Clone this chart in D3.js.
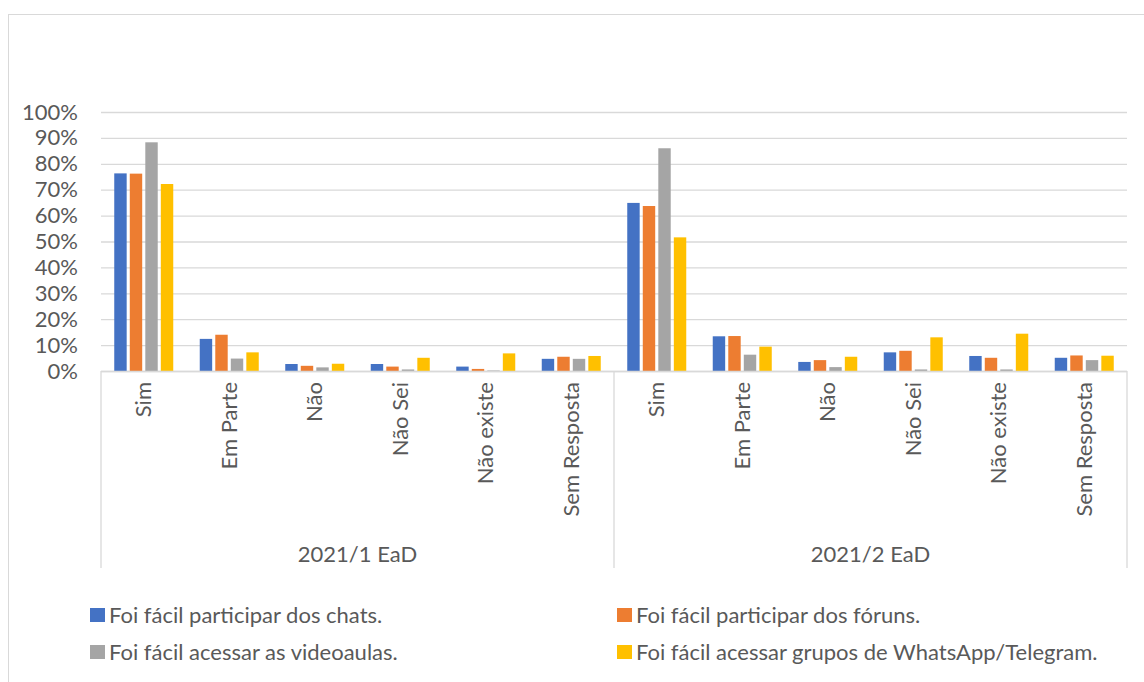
<!DOCTYPE html>
<meta charset="utf-8">
<style>
  body { margin: 0; background: #fff; }
  svg text { font-family: Lato, "Open Sans", sans-serif; fill: #595959; }
</style>
<body>
<div id="chart"></div>
<script src="https://d3js.org/d3.v7.min.js"></script>
<script>
// data
var groups = ["2021/1 EaD", "2021/2 EaD"];
var categories = ["Sim", "Em Parte", "Não", "Não Sei", "Não existe", "Sem Resposta"];
var seriesNames = [
  "Foi fácil participar dos chats.",
  "Foi fácil participar dos fóruns.",
  "Foi fácil acessar as videoaulas.",
  "Foi fácil acessar grupos de WhatsApp/Telegram."
];
// values per series, 6 categories of group 1 then 6 of group 2
var chats     = [0.763, 0.124, 0.027, 0.027, 0.017, 0.047,  0.649, 0.134, 0.035, 0.072, 0.058, 0.051];
var foruns    = [0.762, 0.140, 0.020, 0.017, 0.008, 0.055,  0.637, 0.135, 0.042, 0.078, 0.051, 0.060];
var videos    = [0.883, 0.048, 0.014, 0.006, 0.002, 0.047,  0.860, 0.063, 0.015, 0.006, 0.006, 0.042];
var whatsapp  = [0.722, 0.072, 0.028, 0.051, 0.068, 0.058,  0.516, 0.094, 0.055, 0.130, 0.144, 0.059];
var yTicks = [0, 0.1, 0.2, 0.3, 0.4, 0.5, 0.6, 0.7, 0.8, 0.9, 1.0];

var seriesValues = [chats, foruns, videos, whatsapp];
var colors = ["#4472C4", "#ED7D31", "#A5A5A5", "#FFC000"];

var W = 1144, H = 682;
var plotL = 101, plotR = 1127, plotT = 112, plotB = 371;
var fs = "22px";

var svg = d3.select("#chart").append("svg")
    .attr("width", W)
    .attr("height", H);

// outer frame
svg.append("rect")
    .attr("x", 8.5).attr("y", 14.5)
    .attr("width", W + 10).attr("height", H)
    .attr("fill", "none")
    .attr("stroke", "#d9d9d9");

// keys for the 12 slots
var keys = [];
groups.forEach(function(g, gi) {
  categories.forEach(function(c, ci) { keys.push(gi + "|" + ci); });
});

var x0 = d3.scaleBand().domain(keys).range([plotL, plotR]).padding(0);
var clusterW = 59;
var x1 = d3.scaleBand().domain(d3.range(seriesNames.length))
    .range([0, clusterW]).paddingInner(0.2);
var y = d3.scaleLinear().domain([0, 1]).range([plotB, plotT]);

// grid + y axis
var yAxis = svg.append("g")
    .attr("transform", "translate(" + plotL + ",0)")
    .call(d3.axisLeft(y).tickValues(yTicks).tickFormat(d3.format(".0%"))
      .tickSize(-(plotR - plotL)).tickPadding(23));
yAxis.select(".domain").remove();
yAxis.selectAll(".tick line").attr("stroke", "#d9d9d9").attr("stroke-width", 1.3);
yAxis.selectAll(".tick text").style("font-size", fs).attr("fill", "#595959")
    .attr("font-family", "Lato");

// bars
var off = (x0.bandwidth() - clusterW) / 2;
seriesValues.forEach(function(vals, si) {
  svg.append("g").selectAll("rect")
    .data(vals)
    .enter().append("rect")
      .attr("x", function(d, i) { return x0(keys[i]) + off + x1(si); })
      .attr("y", function(d) { return y(d); })
      .attr("width", x1.bandwidth())
      .attr("height", function(d) { return plotB - y(d); })
      .attr("fill", colors[si]);
});

// baseline
svg.append("line")
    .attr("x1", plotL).attr("x2", plotR)
    .attr("y1", plotB + 0.5).attr("y2", plotB + 0.5)
    .attr("stroke", "#d9d9d9").attr("stroke-width", 1.3);

// category labels (rotated)
svg.append("g").selectAll("text")
  .data(keys)
  .enter().append("text")
    .attr("transform", function(k) {
      return "translate(" + (x0(k) + x0.bandwidth() / 2) + "," + (plotB + 11) + ") rotate(-90)";
    })
    .attr("dy", "0.35em")
    .attr("text-anchor", "end")
    .style("font-size", fs)
    .text(function(k) { return categories[+k.split("|")[1]]; });

// group separators
var sepY2 = 568;
[0, 1, 2].forEach(function(i) {
  var xx = i < 2 ? x0(i + "|0") : plotR;
  svg.append("line")
    .attr("x1", xx).attr("x2", xx)
    .attr("y1", plotB).attr("y2", sepY2)
    .attr("stroke", "#d9d9d9").attr("stroke-width", 1.3);
});

// group labels
groups.forEach(function(g, gi) {
  var a = x0(gi + "|0"), b = x0(gi + "|5") + x0.bandwidth();
  svg.append("text")
    .attr("x", (a + b) / 2).attr("y", 562)
    .attr("text-anchor", "middle")
    .style("font-size", fs)
    .text(g);
});

// legend
var legendPos = [[90, 608], [617, 608], [90, 645], [617, 645]];
var legend = svg.append("g").selectAll("g")
  .data(seriesNames)
  .enter().append("g")
    .attr("transform", function(d, i) { return "translate(" + legendPos[i][0] + "," + legendPos[i][1] + ")"; });
legend.append("rect")
    .attr("x", 0).attr("y", 0)
    .attr("width", 15).attr("height", 14)
    .attr("fill", function(d, i) { return colors[i]; });
legend.append("text")
    .attr("x", 19).attr("y", 15)
    .style("font-size", fs)
    .text(function(d) { return d; });
</script>
</body>
